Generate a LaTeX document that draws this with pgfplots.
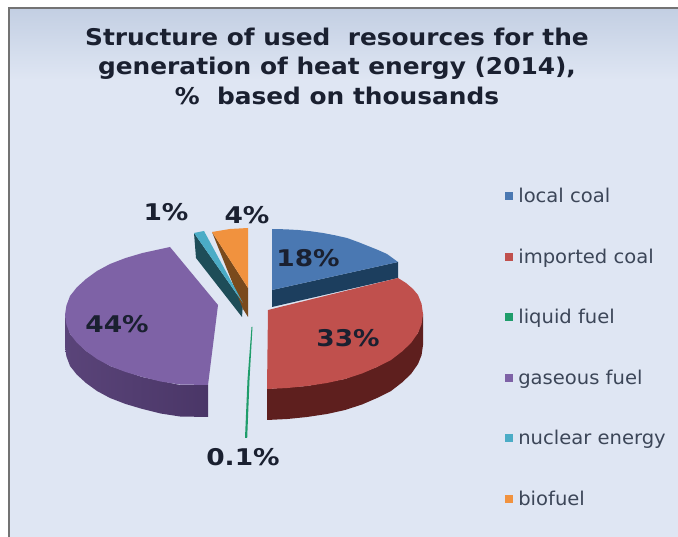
\documentclass[border=0pt]{standalone}
\usepackage{pgfplots}
\pgfplotsset{compat=1.18}
\usepackage{fontspec}
\setmainfont{DejaVu Sans}
\newfontfamily\titlefont[FakeStretch=1.08]{DejaVu Sans Bold}
\newfontfamily\valuefont[FakeStretch=1.15]{DejaVu Sans Bold}
\newfontfamily\keyfont[FakeStretch=1.03]{DejaVu Sans}
\definecolor{panelbg}{HTML}{DFE6F3}
\definecolor{paneltop}{HTML}{C3CFE3}
\definecolor{inkdark}{HTML}{1A2030}
\definecolor{legendink}{HTML}{3C4658}
\definecolor{localtop}{HTML}{4A78B2}
\definecolor{localside}{HTML}{1C3E5E}
\definecolor{importtop}{HTML}{C0504D}
\definecolor{importside}{HTML}{5E1F1E}
\definecolor{liquidtop}{HTML}{1F9D6B}
\definecolor{gastop}{HTML}{7E62A6}
\definecolor{gasside}{HTML}{5A4479}
\definecolor{gassidedark}{HTML}{4A3667}
\definecolor{nucleartop}{HTML}{4BACC6}
\definecolor{nuclearside}{HTML}{1E4D58}
\definecolor{biotop}{HTML}{F1923E}
\definecolor{bioside}{HTML}{7A4A1C}
\pgfplotsset{
  legendsq/.style={legend image code/.code={
    \fill[##1] (0pt,-4pt) rectangle (8pt,4pt);
    \path (0pt,0pt) (13pt,0pt);}},
}
\begin{document}
\begin{tikzpicture}
\begin{axis}[
  scale only axis, width=678pt, height=537pt,
  xmin=0, xmax=678, ymin=0, ymax=537, y dir=reverse,
  hide axis, clip=true,
  legend style={at={(rel axis cs:0.745,0.650)},anchor=north west,draw=none,fill=none,
    row sep=44.6pt,font=\keyfont\fontsize{19}{20}\selectfont\color{legendink},
    inner sep=0pt,nodes={inner sep=0pt,anchor=west}},
  legend cell align=left,
]
% panel
\addplot[forget plot,draw=none,fill=white] coordinates {(0,0)(678,0)(678,537)(0,537)} --cycle;
\addplot[forget plot,draw=none,top color=paneltop,bottom color=panelbg] coordinates {(9,9)(678,9)(678,80)(9,80)} --cycle;
\addplot[forget plot,draw=none,fill=panelbg] coordinates {(9,80)(678,80)(678,537)(9,537)} --cycle;
\addplot[forget plot,color=gray!90!black,line width=1.6pt] coordinates {(9,537)(9,8)(678,8)};

% walls of the slices, drawn below the top faces
\addplot[forget plot,draw=none,fill=importside] coordinates {(267,389)(307,386)(345,379)(377,367)(402,351)(418,333)(423,314)(423,345)(421.6,355)(418,364)(411,374)(402,382.5)(391,391)(377,398)(362,404.5)(345,410)(327,414)(307,417)(287.5,419)(267,420)} --cycle;
\addplot[forget plot,draw=none,fill=localside] coordinates {(272,290)(398,262)(398,278)(272,307)} --cycle;
\addplot[forget plot,draw=none,left color=gasside,right color=gassidedark] coordinates {(65,315)(70,334)(86,351)(110,366)(142,377)(180,385)(208,385)(208,417)(180,416.5)(160.6,413.5)(142.5,409)(125.6,404)(110,398)(97,391)(86,383)(76.8,374.6)(70,366)(66.4,356.4)(65,347)} --cycle;
\addplot[forget plot,draw=none,fill=nuclearside] coordinates {(194,233)(196,258)(242,317)(243,303)} --cycle;
\addplot[forget plot,draw=none,fill=bioside] coordinates {(212,232)(248,288)(248,317)(243,309)} --cycle;

% top faces, one for each resource
\addplot[legendsq,draw=none,fill=localtop] coordinates {(272,290)(272,229)(285,229.3)(298,230)(311,231.3)(323,233)(335,235.3)(347,238)(358,242)(368,246)(378,250)(387,254)(398,262)} --cycle;
\addlegendentry{local coal}
\addplot[legendsq,draw=none,fill=importtop] coordinates {(268,310)(398,278)(406,283)(413,289)(418,295)(421.6,304)(423,314)(421.6,324)(418,333)(411,343)(402,351.5)(391,360)(377,367)(362,373.5)(345,379)(327,383)(307,386)(287.5,388)(267,389)} --cycle;
\addlegendentry{imported coal}
\addplot[legendsq,draw=none,fill=liquidtop] coordinates {(251.5,327)(252.5,327)(249.5,380)(247.2,438)(245,438)(247.5,380)} --cycle;
\addlegendentry{liquid fuel}
\addplot[legendsq,draw=none,fill=gastop] coordinates {(218,305)(170,247)(142.5,253)(125.6,258)(110,264)(97,271)(86,279)(76.8,287.4)(70,296)(66.4,305.6)(65,315)(66.4,324.4)(70,334)(76.8,342.6)(86,351)(97,359)(110,366)(125.6,372)(142.5,377)(160.6,381.5)(180,384.5)(208,385)} --cycle;
\addlegendentry{gaseous fuel}
\addplot[legendsq,draw=none,fill=nucleartop] coordinates {(194,233)(204,231)(243,303)} --cycle;
\addlegendentry{nuclear energy}
\addplot[legendsq,draw=none,fill=biotop] coordinates {(212,232)(230,229)(248,228)(248,288)} --cycle;
\addlegendentry{biofuel}

% title and value labels
\node[align=center,text=inkdark,font=\titlefont\fontsize{23}{29.5}\selectfont,anchor=center]
  at (axis cs:337,66) {Structure of used\ \ resources for the\\generation of heat energy (2014),\\\%\ \ based on thousands};
\foreach \t/\x/\y in {18\%/308/258,33\%/348/338,44\%/117/324,0.1\%/243/457,1\%/166/212,4\%/247/215}{
  \edef\temp{\noexpand\node[text=inkdark,font=\noexpand\valuefont\noexpand\fontsize{23}{24}\noexpand\selectfont] at (axis cs:\x,\y) {\t};}
  \temp
}
\end{axis}
\end{tikzpicture}
\end{document}
